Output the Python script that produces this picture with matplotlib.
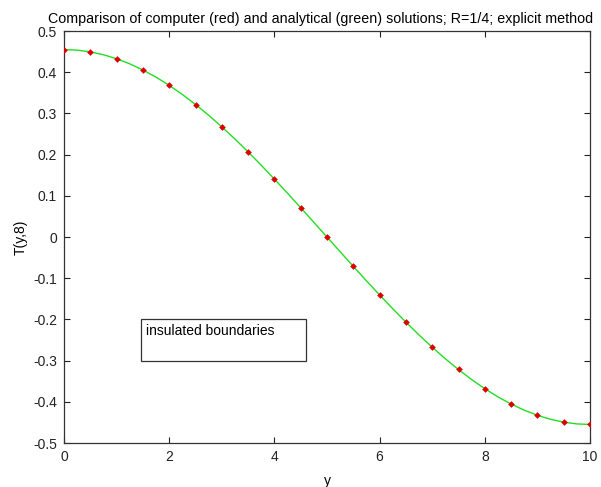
import matplotlib
matplotlib.use("Agg")
import matplotlib.pyplot as plt

plt.rcParams['font.family'] = ['Liberation Sans', 'DejaVu Sans']

# computed (red) solution
y_num = [0, 0.5, 1, 1.5, 2, 2.5, 3, 3.5, 4, 4.5, 5, 5.5, 6, 6.5, 7, 7.5, 8, 8.5, 9, 9.5, 10]
T_num = [0.455, 0.449, 0.432, 0.405, 0.368, 0.321, 0.267, 0.206, 0.140, 0.071, 0.000,
         -0.071, -0.140, -0.206, -0.267, -0.321, -0.368, -0.405, -0.432, -0.449, -0.455]

# analytical (green) solution
y_an = [0, 0.25, 0.5, 0.75, 1, 1.25, 1.5, 1.75, 2, 2.25, 2.5, 2.75, 3, 3.25, 3.5, 3.75, 4, 4.25, 4.5, 4.75,
        5, 5.25, 5.5, 5.75, 6, 6.25, 6.5, 6.75, 7, 7.25, 7.5, 7.75, 8, 8.25, 8.5, 8.75, 9, 9.25, 9.5, 9.75, 10]
T_an = [0.4550, 0.4536, 0.4494, 0.4424, 0.4327, 0.4204, 0.4054, 0.3880, 0.3681, 0.3460, 0.3217,
        0.2955, 0.2674, 0.2378, 0.2066, 0.1741, 0.1406, 0.1063, 0.0712, 0.0357, 0.0000,
        -0.0357, -0.0712, -0.1063, -0.1406, -0.1741, -0.2066, -0.2378, -0.2674, -0.2955, -0.3217,
        -0.3460, -0.3681, -0.3880, -0.4054, -0.4204, -0.4327, -0.4424, -0.4494, -0.4536, -0.4550]

xticks = [0, 2, 4, 6, 8, 10]
yticks = [-0.5, -0.4, -0.3, -0.2, -0.1, 0, 0.1, 0.2, 0.3, 0.4, 0.5]
ytick_labels = ['-0.5', '-0.4', '-0.3', '-0.2', '-0.1', '0', '0.1', '0.2', '0.3', '0.4', '0.5']

fig = plt.figure(figsize=(6.01, 4.87), dpi=100)
ax = fig.add_axes([0.1065, 0.0903, 0.8752, 0.846])

ax.plot(y_an, T_an, color='#22dd22', lw=1.0, zorder=2)
ax.plot(y_num, T_num, linestyle='none', marker='D', markersize=3.4, color='#dd0000',
        markeredgewidth=0, zorder=3)

ax.set_xlim(0, 10)
ax.set_ylim(-0.5, 0.5)
ax.set_xticks(xticks)
ax.set_yticks(yticks)
ax.set_yticklabels(ytick_labels)
ax.tick_params(direction='in', length=4, width=0.8, top=True, right=True,
               labelsize=10, colors='#222222', pad=5)
for s in ax.spines.values():
    s.set_linewidth(0.9)
    s.set_color('#333333')

ax.set_xlabel('y', fontsize=10, labelpad=7)
ax.set_ylabel('T(y,8)', fontsize=10, labelpad=4)
ax.set_title('Comparison of computer (red) and analytical (green) solutions; R=1/4; explicit method',
             fontsize=10.3, pad=6, x=0.488)

# annotation textbox
ax.add_patch(plt.Rectangle((1.46, -0.30), 3.14, 0.10, fill=False, lw=0.9,
                           edgecolor='#333333', zorder=4))
ax.text(1.55, -0.212, 'insulated boundaries', fontsize=10, va='top', ha='left', zorder=5)

fig.savefig('out.png', dpi=100)
